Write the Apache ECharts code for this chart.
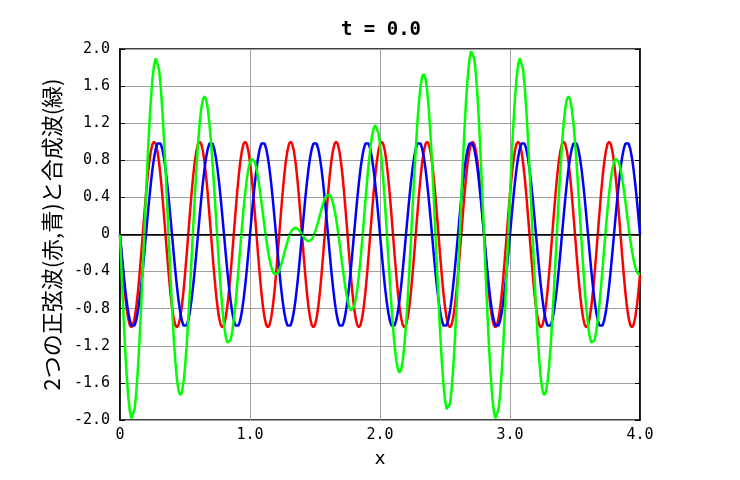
<!DOCTYPE html>
<html><head><meta charset="utf-8">
<script src="https://cdn.jsdelivr.net/npm/echarts@6/dist/echarts.min.js"></script>
<style>html,body{margin:0;padding:0;background:#fff}#c{width:740px;height:480px}</style>
</head><body><div id="c"></div>
<script>
// values sampled every 0.0125 along x, from x=0 to x=4 (321 samples)
const X_STEP = 0.0125;
const titleText = 't = 0.0';
const xName = 'x';
const yName = '2つの正弦波(赤,青)と合成波(緑)';

const red = [
0,-0.223,-0.434,-0.623,-0.782,-0.901,-0.975,-1,-0.975,-0.901,-0.782,-0.623,-0.434,-0.223,0,0.223,0.434,0.623,0.782,0.901,0.975,1,0.975,0.901,0.782,0.623,0.434,0.223,
0,-0.223,-0.434,-0.623,-0.782,-0.901,-0.975,-1,-0.975,-0.901,-0.782,-0.623,-0.434,-0.223,0,0.223,0.434,0.623,0.782,0.901,0.975,1,0.975,0.901,0.782,0.623,0.434,0.223,
0,-0.223,-0.434,-0.623,-0.782,-0.901,-0.975,-1,-0.975,-0.901,-0.782,-0.623,-0.434,-0.223,0,0.223,0.434,0.623,0.782,0.901,0.975,1,0.975,0.901,0.782,0.623,0.434,0.223,
0,-0.223,-0.434,-0.623,-0.782,-0.901,-0.975,-1,-0.975,-0.901,-0.782,-0.623,-0.434,-0.223,0,0.223,0.434,0.623,0.782,0.901,0.975,1,0.975,0.901,0.782,0.623,0.434,0.223,
0,-0.223,-0.434,-0.623,-0.782,-0.901,-0.975,-1,-0.975,-0.901,-0.782,-0.623,-0.434,-0.223,0,0.223,0.434,0.623,0.782,0.901,0.975,1,0.975,0.901,0.782,0.623,0.434,0.223,
0,-0.223,-0.434,-0.623,-0.782,-0.901,-0.975,-1,-0.975,-0.901,-0.782,-0.623,-0.434,-0.223,0,0.223,0.434,0.623,0.782,0.901,0.975,1,0.975,0.901,0.782,0.623,0.434,0.223,
0,-0.223,-0.434,-0.623,-0.782,-0.901,-0.975,-1,-0.975,-0.901,-0.782,-0.623,-0.434,-0.223,0,0.223,0.434,0.623,0.782,0.901,0.975,1,0.975,0.901,0.782,0.623,0.434,0.223,
0,-0.223,-0.434,-0.623,-0.782,-0.901,-0.975,-1,-0.975,-0.901,-0.782,-0.623,-0.434,-0.223,0,0.223,0.434,0.623,0.782,0.901,0.975,1,0.975,0.901,0.782,0.623,0.434,0.223,
0,-0.223,-0.434,-0.623,-0.782,-0.901,-0.975,-1,-0.975,-0.901,-0.782,-0.623,-0.434,-0.223,0,0.223,0.434,0.623,0.782,0.901,0.975,1,0.975,0.901,0.782,0.623,0.434,0.223,
0,-0.223,-0.434,-0.623,-0.782,-0.901,-0.975,-1,-0.975,-0.901,-0.782,-0.623,-0.434,-0.223,0,0.223,0.434,0.623,0.782,0.901,0.975,1,0.975,0.901,0.782,0.623,0.434,0.223,
0,-0.223,-0.434,-0.623,-0.782,-0.901,-0.975,-1,-0.975,-0.901,-0.782,-0.623,-0.434,-0.223,0,0.223,0.434,0.623,0.782,0.901,0.975,1,0.975,0.901,0.782,0.623,0.434,0.223,
0,-0.223,-0.434,-0.623,-0.782,-0.901,-0.975,-1,-0.975,-0.901,-0.782,-0.623,-0.434
];

const blue = [
0,-0.195,-0.383,-0.556,-0.707,-0.831,-0.924,-0.981,-1,-0.981,-0.924,-0.831,-0.707,-0.556,-0.383,-0.195,0,0.195,0.383,0.556,0.707,0.831,0.924,0.981,1,0.981,0.924,0.831,0.707,0.556,0.383,0.195,
0,-0.195,-0.383,-0.556,-0.707,-0.831,-0.924,-0.981,-1,-0.981,-0.924,-0.831,-0.707,-0.556,-0.383,-0.195,0,0.195,0.383,0.556,0.707,0.831,0.924,0.981,1,0.981,0.924,0.831,0.707,0.556,0.383,0.195,
0,-0.195,-0.383,-0.556,-0.707,-0.831,-0.924,-0.981,-1,-0.981,-0.924,-0.831,-0.707,-0.556,-0.383,-0.195,0,0.195,0.383,0.556,0.707,0.831,0.924,0.981,1,0.981,0.924,0.831,0.707,0.556,0.383,0.195,
0,-0.195,-0.383,-0.556,-0.707,-0.831,-0.924,-0.981,-1,-0.981,-0.924,-0.831,-0.707,-0.556,-0.383,-0.195,0,0.195,0.383,0.556,0.707,0.831,0.924,0.981,1,0.981,0.924,0.831,0.707,0.556,0.383,0.195,
0,-0.195,-0.383,-0.556,-0.707,-0.831,-0.924,-0.981,-1,-0.981,-0.924,-0.831,-0.707,-0.556,-0.383,-0.195,0,0.195,0.383,0.556,0.707,0.831,0.924,0.981,1,0.981,0.924,0.831,0.707,0.556,0.383,0.195,
0,-0.195,-0.383,-0.556,-0.707,-0.831,-0.924,-0.981,-1,-0.981,-0.924,-0.831,-0.707,-0.556,-0.383,-0.195,0,0.195,0.383,0.556,0.707,0.831,0.924,0.981,1,0.981,0.924,0.831,0.707,0.556,0.383,0.195,
0,-0.195,-0.383,-0.556,-0.707,-0.831,-0.924,-0.981,-1,-0.981,-0.924,-0.831,-0.707,-0.556,-0.383,-0.195,0,0.195,0.383,0.556,0.707,0.831,0.924,0.981,1,0.981,0.924,0.831,0.707,0.556,0.383,0.195,
0,-0.195,-0.383,-0.556,-0.707,-0.831,-0.924,-0.981,-1,-0.981,-0.924,-0.831,-0.707,-0.556,-0.383,-0.195,0,0.195,0.383,0.556,0.707,0.831,0.924,0.981,1,0.981,0.924,0.831,0.707,0.556,0.383,0.195,
0,-0.195,-0.383,-0.556,-0.707,-0.831,-0.924,-0.981,-1,-0.981,-0.924,-0.831,-0.707,-0.556,-0.383,-0.195,0,0.195,0.383,0.556,0.707,0.831,0.924,0.981,1,0.981,0.924,0.831,0.707,0.556,0.383,0.195,
0,-0.195,-0.383,-0.556,-0.707,-0.831,-0.924,-0.981,-1,-0.981,-0.924,-0.831,-0.707,-0.556,-0.383,-0.195,0,0.195,0.383,0.556,0.707,0.831,0.924,0.981,1,0.981,0.924,0.831,0.707,0.556,0.383,0.195,
0
];

const green = [
0,-0.418,-0.817,-1.179,-1.489,-1.732,-1.899,-1.981,-1.975,-1.882,-1.706,-1.454,-1.141,-0.779,-0.383,0.028,0.434,0.818,1.165,1.457,1.682,1.831,1.899,1.882,1.782,1.604,1.358,1.054,
0.707,0.333,-0.051,-0.428,-0.782,-1.096,-1.358,-1.556,-1.682,-1.732,-1.706,-1.604,-1.434,-1.204,-0.924,-0.608,-0.273,0.067,0.399,0.706,0.975,1.195,1.358,1.457,1.489,1.454,1.358,1.204,
1,0.758,0.49,0.208,-0.075,-0.345,-0.592,-0.805,-0.975,-1.096,-1.165,-1.179,-1.141,-1.054,-0.924,-0.758,-0.566,-0.358,-0.142,0.07,0.268,0.444,0.592,0.706,0.782,0.818,0.817,0.779,
0.707,0.608,0.49,0.358,0.218,0.08,-0.051,-0.169,-0.268,-0.345,-0.399,-0.428,-0.434,-0.418,-0.383,-0.333,-0.273,-0.208,-0.142,-0.08,-0.025,0.019,0.051,0.07,0.075,0.067,0.051,0.028,
0,-0.028,-0.051,-0.067,-0.075,-0.07,-0.051,-0.019,0.025,0.08,0.142,0.208,0.273,0.333,0.383,0.418,0.434,0.428,0.399,0.345,0.268,0.169,0.051,-0.08,-0.218,-0.358,-0.49,-0.608,
-0.707,-0.779,-0.817,-0.818,-0.782,-0.706,-0.592,-0.444,-0.268,-0.07,0.142,0.358,0.566,0.758,0.924,1.054,1.141,1.179,1.165,1.096,0.975,0.805,0.592,0.345,0.075,-0.208,-0.49,-0.758,
-1,-1.204,-1.358,-1.454,-1.489,-1.457,-1.358,-1.195,-0.975,-0.706,-0.399,-0.067,0.273,0.608,0.924,1.204,1.434,1.604,1.706,1.732,1.682,1.556,1.358,1.096,0.782,0.428,0.051,-0.333,
-0.707,-1.054,-1.358,-1.604,-1.782,-1.882,-1.899,-1.831,-1.682,-1.457,-1.165,-0.818,-0.434,-0.028,0.383,0.779,1.141,1.454,1.706,1.882,1.975,1.981,1.899,1.732,1.489,1.179,0.817,0.418,
0,-0.418,-0.817,-1.179,-1.489,-1.732,-1.899,-1.981,-1.975,-1.882,-1.706,-1.454,-1.141,-0.779,-0.383,0.028,0.434,0.818,1.165,1.457,1.682,1.831,1.899,1.882,1.782,1.604,1.358,1.054,
0.707,0.333,-0.051,-0.428,-0.782,-1.096,-1.358,-1.556,-1.682,-1.732,-1.706,-1.604,-1.434,-1.204,-0.924,-0.608,-0.273,0.067,0.399,0.706,0.975,1.195,1.358,1.457,1.489,1.454,1.358,1.204,
1,0.758,0.49,0.208,-0.075,-0.345,-0.592,-0.805,-0.975,-1.096,-1.165,-1.179,-1.141,-1.054,-0.924,-0.758,-0.566,-0.358,-0.142,0.07,0.268,0.444,0.592,0.706,0.782,0.818,0.817,0.779,
0.707,0.608,0.49,0.358,0.218,0.08,-0.051,-0.169,-0.268,-0.345,-0.399,-0.428,-0.434
];

function pairs(arr){ return arr.map((v,i)=>[i*X_STEP, v]); }

const mono = 'DejaVu Sans Mono';
const chart = echarts.init(document.getElementById('c'), null, {renderer:'canvas'});
const lineSeries = (name, data, color, extra) => Object.assign({
  name, type:'line', data: pairs(data), showSymbol:false, symbol:'none', smooth:false,
  lineStyle:{color, width:2.5}, itemStyle:{color}, animation:false, xAxisIndex:0, yAxisIndex:0
}, extra||{});

chart.setOption({
  backgroundColor:'#fff',
  animation:false,
  title:{text:titleText, left:376, top:16, textAlign:'center',
    textStyle:{fontFamily:mono, fontWeight:'bold', fontSize:19, color:'#000'}},
  grid:{left:120, right:100, top:49, bottom:60, show:true, borderColor:'#000', borderWidth:1.5, backgroundColor:'transparent'},
  xAxis:[{type:'value', min:0, max:4, interval:1, position:'bottom',
    name:xName, nameLocation:'middle', nameGap:30,
    nameTextStyle:{fontFamily:'DejaVu Sans', fontSize:18, color:'#000'},
    axisLine:{show:true, lineStyle:{color:'#000', width:1.5}},
    axisTick:{show:false},
    axisLabel:{fontFamily:mono, fontSize:15, color:'#000', margin:8,
      formatter:v=> v===0 ? '0' : v.toFixed(1)},
    splitLine:{show:true, lineStyle:{color:'#a0a0a0', width:1}}}],
  yAxis:[{type:'value', min:-2, max:2, interval:0.4, position:'left',
    name:yName, nameLocation:'middle', nameGap:52, nameRotate:90,
    nameTextStyle:{fontFamily:'Noto Sans CJK JP', fontSize:22, color:'#000'},
    axisLine:{show:true, lineStyle:{color:'#000', width:1.5}},
    axisTick:{show:true, inside:true, length:5, lineStyle:{color:'#000'}},
    axisLabel:{fontFamily:mono, fontSize:15, color:'#000', margin:10,
      formatter:v=> Math.abs(v)<1e-9 ? '0' : v.toFixed(1)},
    splitLine:{show:true, lineStyle:{color:'#a0a0a0', width:1}}},
   {type:'value', min:-2, max:2, interval:0.4, position:'right',
    axisLine:{show:true, lineStyle:{color:'#000', width:1.5}},
    axisTick:{show:true, inside:true, length:5, lineStyle:{color:'#000'}},
    axisLabel:{show:false}, splitLine:{show:false}}],
  series:[
    lineSeries('red', red, '#ff0000', {markLine:{silent:true, symbol:'none', animation:false,
      label:{show:false}, lineStyle:{color:'#000', width:1, type:'solid'}, data:[{yAxis:0}]}}),
    lineSeries('blue', blue, '#0000ff'),
    lineSeries('green', green, '#00ff00')
  ]
});
</script></body></html>
